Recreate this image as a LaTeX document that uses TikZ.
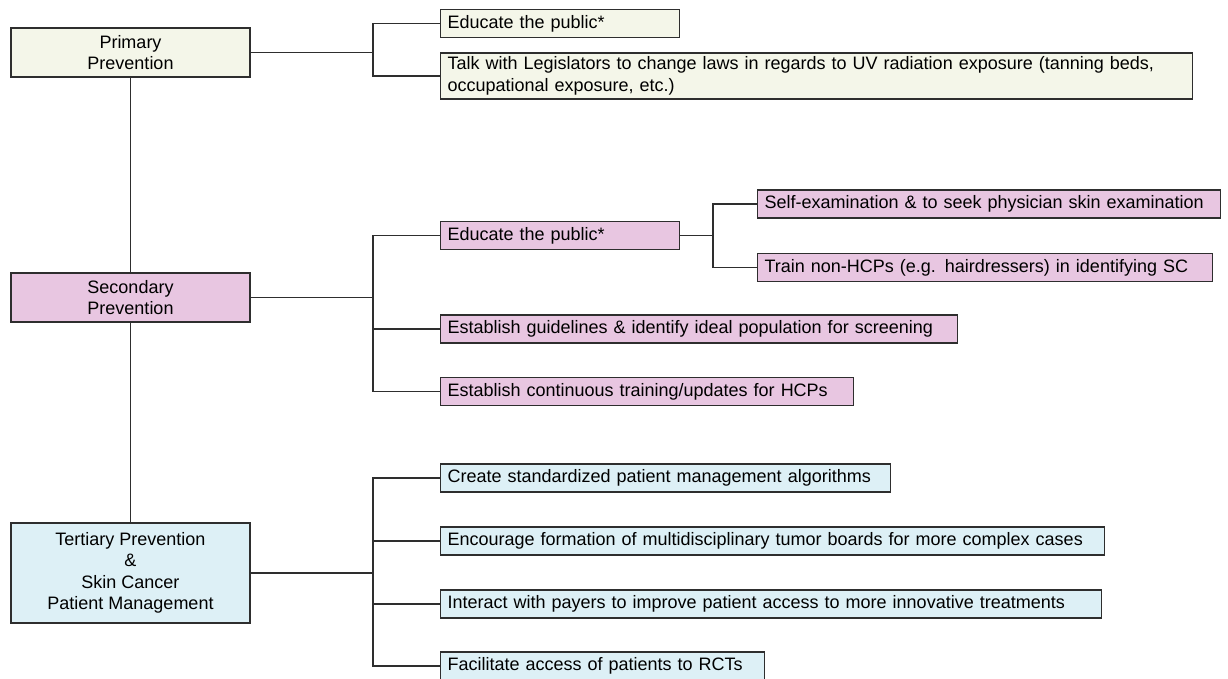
\documentclass[tikz,border=0pt]{standalone}
\usepackage{fontspec}
\setmainfont{Liberation Sans}
\definecolor{primfill}{HTML}{F4F6E9}
\definecolor{secfill}{HTML}{E8C6E1}
\definecolor{terfill}{HTML}{DDF0F6}
\definecolor{edge}{HTML}{2E2E2E}
\tikzset{
    mainbox/.style={draw=edge, line width=1.2pt, minimum width=239pt, align=center, inner sep=0pt},
    leafbox/.style={draw=edge, line width=1.2pt, anchor=west, minimum height=28pt, inner xsep=7pt, inner ysep=0pt, text width=#1, align=left},
    link/.style={draw=edge, line width=1.1pt}
}
\begin{document}
\begin{tikzpicture}[x=1pt,y=-1pt]
                        \fontsize{18}{21.5}\selectfont
                        \useasboundingbox (0,0) rectangle (1228,678);
                        % left column
                        \node[mainbox, fill=primfill, minimum height=49pt] (prim) at (130.5,52.5) {Primary\\Prevention};
                        \node[mainbox, fill=secfill, minimum height=49pt] (sec) at (130.5,297.5) {Secondary\\Prevention};
                        \node[mainbox, fill=terfill, minimum height=100pt] (ter) at (130.5,573) {Tertiary Prevention\\\&\\Skin Cancer\\Patient Management};
                        \draw[link] (prim) -- (sec);
                        \draw[link] (sec) -- (ter);
                        % primary
                        \node[leafbox=225pt, fill=primfill] (p1) at (440,23.5) {Educate the public*};
                        \node[leafbox=738pt, fill=primfill, minimum height=46pt] (p2) at (440,76) {Talk with Legislators to change laws in regards to UV radiation exposure (tanning beds, occupational exposure, etc.)};
                        \coordinate (pj) at (373,52.5);
                        \draw[link] (prim) -- (pj) |- (p1);
                        \draw[link] (pj) |- (p2);
                        % secondary
                        \node[leafbox=225pt, fill=secfill] (s1) at (440,235.5) {Educate the public*};
                        \node[leafbox=449pt, fill=secfill] (s1a) at (757,204) {Self-examination \& to seek physician skin examination};
                        \node[leafbox=441pt, fill=secfill] (s1b) at (757,267.5) {Train non-HCPs (e.g. hairdressers) in identifying SC};
                        \node[leafbox=503pt, fill=secfill] (s2) at (440,329) {Establish guidelines \& identify ideal population for screening};
                        \node[leafbox=399pt, fill=secfill] (s3) at (440,391.5) {Establish continuous training/updates for HCPs};
                        \coordinate (sj) at (373,297.5);
                        \coordinate (sj2) at (713,235.5);
                        \draw[link] (sec) -- (sj) |- (s1);
                        \draw[link] (sj) |- (s2);
                        \draw[link] (sj) |- (s3);
                        \draw[link] (s1) -- (sj2) |- (s1a);
                        \draw[link] (sj2) |- (s1b);
                        % tertiary
                        \node[leafbox=436pt, fill=terfill] (t1) at (440,478) {Create standardized patient management algorithms};
                        \node[leafbox=650pt, fill=terfill] (t2) at (440,541) {Encourage formation of multidisciplinary tumor boards for more complex cases};
                        \node[leafbox=647pt, fill=terfill] (t3) at (440,604) {Interact with payers to improve patient access to more innovative treatments};
                        \node[leafbox=310pt, fill=terfill] (t4) at (440,666) {Facilitate access of patients to RCTs};
                        \coordinate (tj) at (373,573);
                        \draw[link] (ter) -- (tj) |- (t1);
                        \draw[link] (tj) |- (t2);
                        \draw[link] (tj) |- (t3);
                        \draw[link] (tj) |- (t4);
                    \end{tikzpicture}
\end{document}
